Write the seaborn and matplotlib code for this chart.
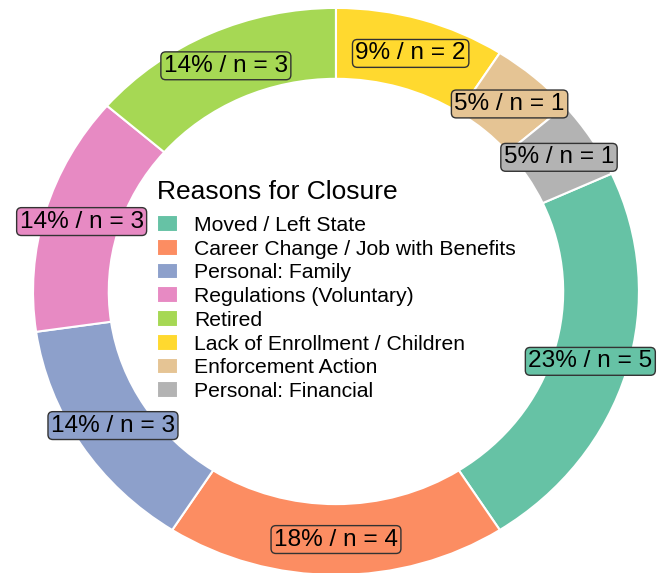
import matplotlib
matplotlib.use("Agg")
import matplotlib.pyplot as plt
import seaborn as sns

# Reasons for closure and number of programs
reasons = [
    "Moved / Left State",
    "Career Change / Job with Benefits",
    "Personal: Family",
    "Regulations (Voluntary)",
    "Retired",
    "Lack of Enrollment / Children",
    "Enforcement Action",
    "Personal: Financial",
]
counts = [5, 4, 3, 3, 3, 2, 1, 1]

total = sum(counts)
colors = sns.color_palette("Set2", len(reasons))

plt.rcParams["font.family"] = ["Liberation Sans", "DejaVu Sans"]

fig = plt.figure(figsize=(6.65, 5.73), dpi=100)
ax = fig.add_axes([0, 0, 1, 1])

# first slice starts after the last three slices, which sit at the top
start = 90 - 360 * sum(counts[-3:]) / total


def fmt(pct):
    n = round(pct * total / 100)
    return f"{pct:.0f}% / n = {n}"


wedges, texts, autotexts = ax.pie(
    counts,
    colors=colors,
    startangle=start,
    counterclock=False,
    radius=1,
    wedgeprops=dict(width=0.25, edgecolor="white", linewidth=1.5),
    autopct=fmt,
    pctdistance=0.875,
    textprops=dict(fontsize=17.6, color="black"),
)

for t, c in zip(autotexts, colors):
    t.set_bbox(dict(boxstyle="round,pad=0.12,rounding_size=0.2",
                    facecolor=c, edgecolor="#333333", linewidth=1))

# ring is a little wider than tall in the reference
ax.set_aspect("auto")
ax.set_xlim(-1.109, 1.086)
ax.set_ylim(-0.993, 1.028)
ax.axis("off")

leg = ax.legend(
    wedges, reasons,
    title="Reasons for Closure",
    loc="upper left",
    bbox_to_anchor=(138 / 665, 1 - 161 / 573),
    bbox_transform=fig.transFigure,
    frameon=False,
    fontsize=15.2,
    title_fontsize=19,
    handlelength=1.0,
    handleheight=0.85,
    handletextpad=0.75,
    labelspacing=0.19,
    alignment="left",
)
# a bit more room between title and entries
leg._legend_box.sep = 8

fig.savefig("out.png", dpi=100)
